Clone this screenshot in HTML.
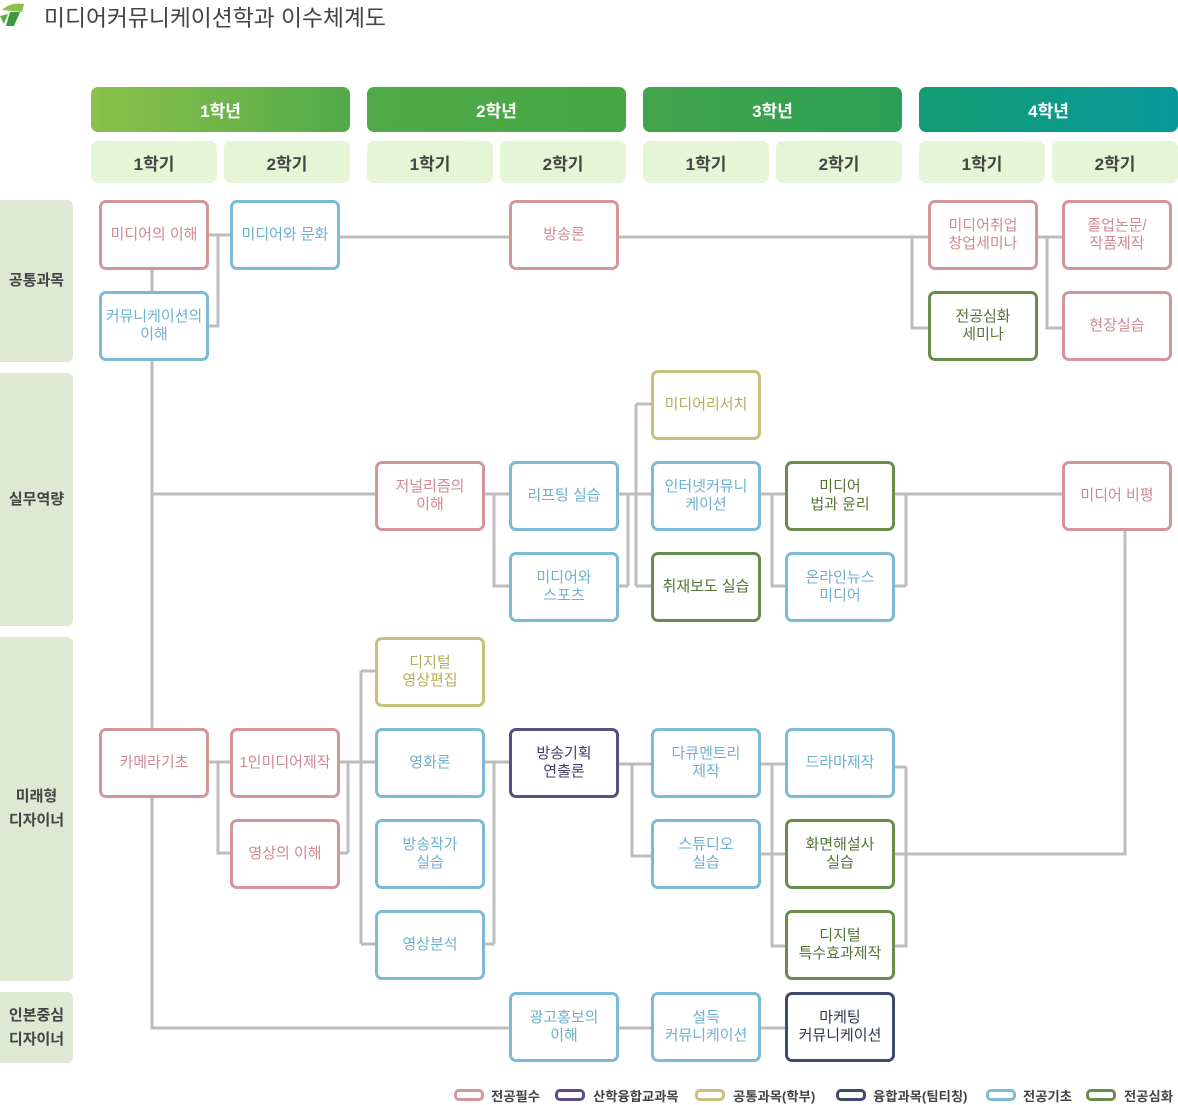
<!DOCTYPE html>
<html><head><meta charset="utf-8"><style>
*{margin:0;padding:0;box-sizing:border-box}
body{width:1178px;height:1104px;position:relative;background:#fff;font-family:"Liberation Sans","Noto Sans CJK KR",sans-serif;overflow:hidden}
.a{position:absolute}
.b{position:absolute;width:110px;height:70px;border:3px solid;border-radius:7px;background:#fff;display:flex;align-items:center;justify-content:center;text-align:center;font-size:15px;line-height:18px;white-space:nowrap}
.p{border-color:#d4969b;color:#d08990}
.u{border-color:#7dbad3;color:#6fb0cc}
.o{border-color:#c6c27c;color:#b3ae5c}
.g{border-color:#6b8d4b;color:#557436}
.v{border-color:#5b4c82;color:#45386b}
.n{border-color:#3f4b6e;color:#2f3850}
.cat{position:absolute;left:0;width:73px;background:#dfe8d3;border-radius:0 6px 6px 0;display:flex;align-items:center;justify-content:center;text-align:center;font-size:15px;font-weight:bold;color:#444;line-height:24px}
.yr{position:absolute;top:87px;width:259px;height:45px;border-radius:7px;color:#fff;font-size:17px;font-weight:bold;display:flex;align-items:center;justify-content:center}
.sm{position:absolute;top:141px;width:126px;height:42px;border-radius:7px;background:#e4f6d6;color:#444;font-size:17px;font-weight:bold;display:flex;align-items:center;justify-content:center}
.lg{position:absolute;top:1089px;width:30px;height:12px;border:3px solid;border-radius:5px}
.lt{position:absolute;top:1086px;font-size:13.3px;font-weight:bold;color:#444}
</style></head><body>
<svg class="a" style="left:0;top:0" width="30" height="28" viewBox="0 0 30 28"><path d="M2 10 Q10 2 24 4 L22 12 Z" fill="#8cc04a"/><path d="M10 12 L20 12 L14 26 L6 26 Z" fill="#3a9a3f"/><path d="M0 16 L8 14 L4 24 Z" fill="#5aae48"/></svg>
<div class="a" style="left:44px;top:0px;font-size:22.8px;color:#444">미디어커뮤니케이션학과 이수체계도</div>

<div class="yr" style="left:91px;background:linear-gradient(90deg,#8bc04b,#52aa48)">1학년</div>
<div class="yr" style="left:367px;background:linear-gradient(90deg,#4fa948,#45a645)">2학년</div>
<div class="yr" style="left:643px;background:linear-gradient(90deg,#42a44a,#2a9f55)">3학년</div>
<div class="yr" style="left:919px;background:linear-gradient(90deg,#139c72,#07999b)">4학년</div>
<div class="sm" style="left:91px">1학기</div><div class="sm" style="left:224px">2학기</div>
<div class="sm" style="left:367px">1학기</div><div class="sm" style="left:500px">2학기</div>
<div class="sm" style="left:643px">1학기</div><div class="sm" style="left:776px">2학기</div>
<div class="sm" style="left:919px">1학기</div><div class="sm" style="left:1052px">2학기</div>

<div class="cat" style="top:200px;height:162px">공통과목</div>
<div class="cat" style="top:373px;height:253px">실무역량</div>
<div class="cat" style="top:637px;height:344px">미래형<br>디자이너</div>
<div class="cat" style="top:992px;height:71px">인본중심<br>디자이너</div>

<svg class="a" style="left:0;top:0" width="1178" height="1104" fill="none" stroke="#bdbdbd" stroke-width="3">
<path d="M209 235H231M218 235V326H209M152 270V291M340 237H509M619 237H928M912 237V328H928M1038 237H1062M1047 237V328H1062"/>
<path d="M152 361V1028H509M152 494H375M485 494H509M494 494V586H509M619 494H651M619 586H628M628 494V586M636 404V586M636 404H651M636 586H651"/>
<path d="M761 494H785M772 494V586H785M895 494H1062M895 586H906M906 494V586M1125 531V854H895"/>
<path d="M209 762H231M218 762V853H231M340 762H375M340 853H348M348 762V853M361 671V944M361 671H375M361 944H375M485 762H509M485 944H494M494 762V944"/>
<path d="M619 764H651M632 764V856H651M761 764H785M761 854H785M772 764V946H785M895 767H906M906 767V946H895"/>
<path d="M619 1028H651M761 1028H785"/>
</svg>

<div class="b p" style="left:99px;top:200px">미디어의 이해</div>
<div class="b u" style="left:99px;top:291px">커뮤니케이션의<br>이해</div>
<div class="b u" style="left:230px;top:200px">미디어와 문화</div>
<div class="b p" style="left:509px;top:200px">방송론</div>
<div class="b p" style="left:928px;top:200px">미디어취업<br>창업세미나</div>
<div class="b g" style="left:928px;top:291px">전공심화<br>세미나</div>
<div class="b p" style="left:1062px;top:200px">졸업논문/<br>작품제작</div>
<div class="b p" style="left:1062px;top:291px">현장실습</div>

<div class="b o" style="left:651px;top:370px">미디어리서치</div>
<div class="b p" style="left:375px;top:461px">저널리즘의<br>이해</div>
<div class="b u" style="left:509px;top:461px">리프팅 실습</div>
<div class="b u" style="left:509px;top:552px">미디어와<br>스포츠</div>
<div class="b u" style="left:651px;top:461px">인터넷커뮤니<br>케이션</div>
<div class="b g" style="left:651px;top:552px">취재보도 실습</div>
<div class="b g" style="left:785px;top:461px">미디어<br>법과 윤리</div>
<div class="b u" style="left:785px;top:552px">온라인뉴스<br>미디어</div>
<div class="b p" style="left:1062px;top:461px">미디어 비평</div>

<div class="b o" style="left:375px;top:637px">디지털<br>영상편집</div>
<div class="b p" style="left:99px;top:728px">카메라기초</div>
<div class="b p" style="left:230px;top:728px">1인미디어제작</div>
<div class="b p" style="left:230px;top:819px">영상의 이해</div>
<div class="b u" style="left:375px;top:728px">영화론</div>
<div class="b u" style="left:375px;top:819px">방송작가<br>실습</div>
<div class="b u" style="left:375px;top:910px">영상분석</div>
<div class="b v" style="left:509px;top:728px">방송기획<br>연출론</div>
<div class="b u" style="left:651px;top:728px">다큐멘트리<br>제작</div>
<div class="b u" style="left:651px;top:819px">스튜디오<br>실습</div>
<div class="b u" style="left:785px;top:728px">드라마제작</div>
<div class="b g" style="left:785px;top:819px">화면해설사<br>실습</div>
<div class="b g" style="left:785px;top:910px">디지털<br>특수효과제작</div>

<div class="b u" style="left:509px;top:992px">광고홍보의<br>이해</div>
<div class="b u" style="left:651px;top:992px">설득<br>커뮤니케이션</div>
<div class="b n" style="left:785px;top:992px">마케팅<br>커뮤니케이션</div>

<div class="lg" style="left:454px;border-color:#d4969b"></div><div class="lt" style="left:491px">전공필수</div>
<div class="lg" style="left:555px;border-color:#5b4c82"></div><div class="lt" style="left:593px">산학융합교과목</div>
<div class="lg" style="left:695px;border-color:#c6c27c"></div><div class="lt" style="left:733px">공통과목(학부)</div>
<div class="lg" style="left:836px;border-color:#3f4b6e"></div><div class="lt" style="left:873px">융합과목(팀티칭)</div>
<div class="lg" style="left:986px;border-color:#7dbad3"></div><div class="lt" style="left:1023px">전공기초</div>
<div class="lg" style="left:1086px;border-color:#6b8d4b"></div><div class="lt" style="left:1124px">전공심화</div>
</body></html>
